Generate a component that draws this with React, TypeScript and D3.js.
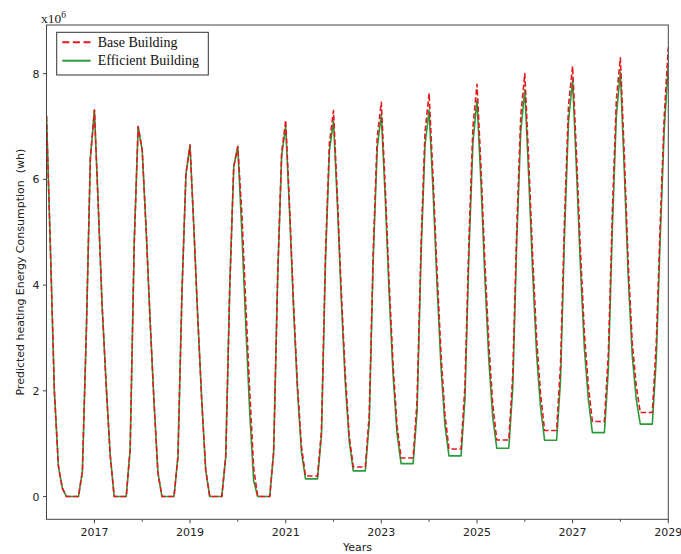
import React from 'react';
import * as d3 from 'd3';

// Monthly values (x10^6 Wh), Jan 2016 .. Jan 2029
const startYear = 2016;
const endYear = 2029;

const baseBuilding: number[] = [
  // 2016
  7.2, 4.6, 2.0, 0.57, 0.16, 0, 0, 0, 0, 0.47, 3.2, 6.4,
  // 2017
  7.31, 5.4, 3.6, 2.1, 0.8, 0, 0, 0, 0, 0.9, 4.8, 7.0,
  // 2018
  6.55, 5.0, 3.4, 1.8, 0.45, 0, 0, 0, 0, 0.76, 3.9, 6.1,
  // 2019
  6.65, 5.0, 3.4, 1.8, 0.5, 0, 0, 0, 0, 0.76, 4.0, 6.24,
  // 2020
  6.62, 5.36, 3.7, 2.0, 0.55, 0, 0, 0, 0, 0.85, 4.2, 6.5,
  // 2021
  7.12, 5.4, 3.7, 2.1, 0.95, 0.39, 0.39, 0.39, 0.39, 1.25, 4.6, 6.7,
  // 2022
  7.3, 5.6, 3.9, 2.3, 1.15, 0.56, 0.56, 0.56, 0.56, 1.55, 4.7, 6.8,
  // 2023
  7.46, 5.8, 4.1, 2.5, 1.35, 0.73, 0.73, 0.73, 0.73, 1.8, 4.8, 6.9,
  // 2024
  7.63, 6.0, 4.3, 2.7, 1.55, 0.9, 0.9, 0.9, 0.9, 2.1, 4.9, 7.0,
  // 2025
  7.8, 6.2, 4.5, 2.9, 1.75, 1.07, 1.07, 1.07, 1.07, 2.3, 5.1, 7.2,
  // 2026
  8.0, 6.3, 4.6, 3.0, 1.95, 1.25, 1.25, 1.25, 1.25, 2.5, 5.3, 7.4,
  // 2027
  8.14, 6.4, 4.7, 3.1, 2.1, 1.42, 1.42, 1.42, 1.42, 2.7, 5.4, 7.5,
  // 2028
  8.3, 6.4, 4.4, 2.9, 2.1, 1.59, 1.59, 1.59, 1.59, 2.9, 5.2, 7.2,
  // 2029
  8.5,
];

const efficientBuilding: number[] = [
  // 2016
  7.2, 4.6, 2.0, 0.57, 0.16, 0, 0, 0, 0, 0.47, 3.2, 6.4,
  // 2017
  7.31, 5.4, 3.6, 2.1, 0.8, 0, 0, 0, 0, 0.9, 4.8, 7.0,
  // 2018
  6.55, 5.0, 3.4, 1.8, 0.45, 0, 0, 0, 0, 0.76, 3.9, 6.1,
  // 2019
  6.65, 5.0, 3.4, 1.8, 0.5, 0, 0, 0, 0, 0.76, 4.0, 6.24,
  // 2020
  6.62, 5.0, 3.3, 1.6, 0.3, 0, 0, 0, 0, 0.85, 4.2, 6.45,
  // 2021
  7.0, 5.3, 3.6, 2.0, 0.85, 0.335, 0.335, 0.335, 0.335, 1.15, 4.5, 6.55,
  // 2022
  7.1, 5.45, 3.75, 2.15, 1.05, 0.486, 0.486, 0.486, 0.486, 1.4, 4.55, 6.6,
  // 2023
  7.22, 5.6, 3.9, 2.3, 1.2, 0.624, 0.624, 0.624, 0.624, 1.6, 4.6, 6.65,
  // 2024
  7.31, 5.75, 4.05, 2.45, 1.35, 0.77, 0.77, 0.77, 0.77, 1.85, 4.65, 6.7,
  // 2025
  7.5, 5.9, 4.2, 2.6, 1.5, 0.915, 0.915, 0.915, 0.915, 2.05, 4.85, 6.9,
  // 2026
  7.69, 6.0, 4.3, 2.7, 1.7, 1.066, 1.066, 1.066, 1.066, 2.2, 5.0, 7.1,
  // 2027
  7.88, 6.1, 4.4, 2.8, 1.85, 1.21, 1.21, 1.21, 1.21, 2.4, 5.1, 7.2,
  // 2028
  8.03, 6.1, 4.15, 2.65, 1.85, 1.37, 1.37, 1.37, 1.37, 2.6, 4.95, 6.95,
  // 2029
  8.16,
];

const yTicks = [0, 2, 4, 6, 8];
const xMajorYears = [2017, 2019, 2021, 2023, 2025, 2027, 2029];
const xMinorYears = [2018, 2020, 2022, 2024, 2026, 2028];
const legendLabels = ['Base Building', 'Efficient Building'];
const xLabel = 'Years';
const yLabel = 'Predicted heating Energy Consumption\u00a0\u00a0(wh)';

const RED = '#e3191c';
const GREEN = '#2a9a3a';
const AXIS = '#444';

export default function App() {
  const W = 681;
  const H = 554;
  const L = 46.5, R = 668.3, T = 25, B = 519.3;

  const dates = baseBuilding.map((_, i) => new Date(Date.UTC(startYear, i, 1)));
  const x = d3
    .scaleUtc()
    .domain([new Date(Date.UTC(startYear, 0, 1)), new Date(Date.UTC(endYear, 0, 1))])
    .range([L, R]);
  const y = d3.scaleLinear().domain([-0.43, 8.92]).range([B, T]);

  const line = d3
    .line<number>()
    .x((_, i) => x(dates[i]))
    .y((d) => y(d));

  const tickFont = "'DejaVu Sans', sans-serif";
  const serif = "'Liberation Serif', 'Times New Roman', serif";

  return (
    <svg
      width={W}
      height={H}
      style={{ position: 'absolute', left: 0, top: 0, background: '#fff' }}
    >
      <rect x={0} y={0} width={W} height={H} fill="#fff" />
      <defs>
        <clipPath id="plotClip">
          <rect x={L} y={T} width={R - L} height={B - T} />
        </clipPath>
      </defs>

      <g clipPath="url(#plotClip)">
        <path d={line(efficientBuilding) || ''} fill="none" stroke={GREEN} strokeWidth={1.6} strokeLinejoin="round" />
        <path
          d={line(baseBuilding) || ''}
          fill="none"
          stroke={RED}
          strokeWidth={1.6}
          strokeDasharray="5.5,2.6"
          strokeLinejoin="round"
        />
      </g>

      {/* frame */}
      <rect x={L} y={T} width={R - L} height={B - T} fill="none" stroke={AXIS} strokeWidth={1} />

      {/* y ticks */}
      {yTicks.map((t) => (
        <g key={'y' + t}>
          <line x1={L - 3.5} x2={L} y1={y(t)} y2={y(t)} stroke={AXIS} strokeWidth={1} />
          <text
            x={L - 7}
            y={y(t)}
            dy="0.36em"
            textAnchor="end"
            fontFamily={tickFont}
            fontSize={11}
            fill="#222"
          >
            {t}
          </text>
        </g>
      ))}

      {/* x ticks */}
      {xMajorYears.map((yr) => {
        const px = x(new Date(Date.UTC(yr, 0, 1)));
        return (
          <g key={'x' + yr}>
            <line x1={px} x2={px} y1={B} y2={B + 4} stroke={AXIS} strokeWidth={1} />
            <text x={px} y={B + 17} textAnchor="middle" fontFamily={tickFont} fontSize={11} fill="#222">
              {yr}
            </text>
          </g>
        );
      })}
      {xMinorYears.map((yr) => {
        const px = x(new Date(Date.UTC(yr, 0, 1)));
        return <line key={'m' + yr} x1={px} x2={px} y1={B} y2={B + 2.5} stroke={AXIS} strokeWidth={1} />;
      })}

      {/* axis labels */}
      <text x={(L + R) / 2} y={550.5} textAnchor="middle" fontFamily={tickFont} fontSize={11} fill="#222">
        {xLabel}
      </text>
      <text
        transform={`translate(24, ${(T + B) / 2}) rotate(-90)`}
        textAnchor="middle"
        fontFamily={tickFont}
        fontSize={11}
        fill="#222"
      >
        {yLabel}
      </text>

      {/* exponent */}
      <text x={41} y={22.5} fontFamily={serif} fontSize={13.5} fill="#222">
        x10
        <tspan fontSize={9.5} dy={-5}>
          6
        </tspan>
      </text>

      {/* legend */}
      <rect x={56.7} y={32.3} width={151.6} height={42.7} fill="#fff" stroke="#333" strokeWidth={1} />
      <line x1={62.3} x2={90.7} y1={42.3} y2={42.3} stroke={RED} strokeWidth={2} strokeDasharray="7,3.6" />
      <line x1={62.3} x2={90.7} y1={60.7} y2={60.7} stroke={GREEN} strokeWidth={2} />
      <text x={97.7} y={46.8} fontFamily={serif} fontSize={14} fill="#111">
        {legendLabels[0]}
      </text>
      <text x={97.7} y={65} fontFamily={serif} fontSize={14} fill="#111">
        {legendLabels[1]}
      </text>
    </svg>
  );
}
